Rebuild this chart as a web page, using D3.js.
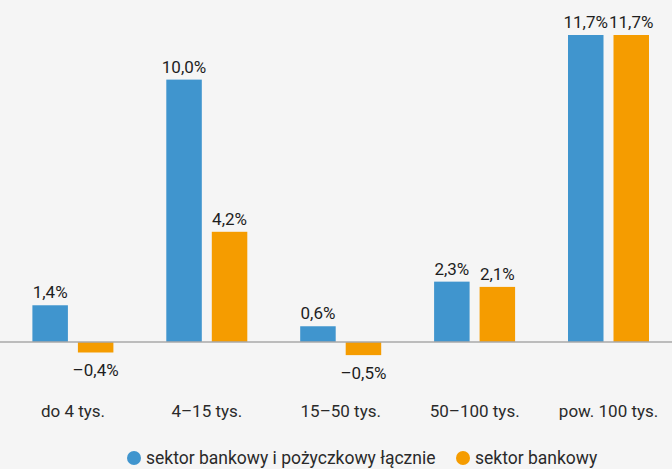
<!DOCTYPE html>
<html>
<head>
<meta charset="utf-8">
<script src="https://cdn.jsdelivr.net/npm/d3@7"></script>
<style>
  html, body { margin: 0; padding: 0; background: #f5f5f5; }
  svg { display: block; font-family: Roboto, "Noto Sans", sans-serif; }
</style>
</head>
<body>
<svg id="chart" width="672" height="469"></svg>
<script>
// Income groups
const categories = ["do 4 tys.", "4–15 tys.", "15–50 tys.", "50–100 tys.", "pow. 100 tys."];
// Series names
const seriesNames = ["sektor bankowy i pożyczkowy łącznie", "sektor bankowy"];
// Values in percent, per series
const combinedValues = [1.4, 10.0, 0.6, 2.3, 11.7];
const bankValues = [-0.4, 4.2, -0.5, 2.1, 11.7];
const seriesColors = ["#4095ce", "#f59c00"];

const svg = d3.select("#chart");
const W = 672;

const series = [combinedValues, bankValues];

const x = d3.scaleBand().domain(categories).range([6, 675.5]).padding(0);
const inner = d3.scaleBand().domain([0, 1]).range([26.4, 26.4 + 81]).paddingInner(0.2198);
const y = d3.scaleLinear().domain([0, 11.7]).range([342, 35]);

const fmt = v => (v < 0 ? "\u2013" : "") + Math.abs(v).toFixed(1).replace(".", ",") + "%";

// bars
series.forEach((vals, si) => {
  const g = svg.append("g");
  g.selectAll("rect").data(vals).join("rect")
    .attr("x", (d, i) => x(categories[i]) + inner(si))
    .attr("width", inner.bandwidth())
    .attr("y", d => Math.min(y(d), y(0)))
    .attr("height", d => Math.abs(y(d) - y(0)))
    .attr("fill", seriesColors[si]);

  g.selectAll("text").data(vals).join("text")
    .attr("x", (d, i) => x(categories[i]) + inner(si) + inner.bandwidth() / 2)
    .attr("y", d => d >= 0 ? y(d) - 7 : y(d) + 24)
    .attr("text-anchor", "middle")
    .attr("font-size", 17)
    .attr("font-weight", 400)
    .attr("fill", "#1e1e1e")
    .text(fmt);
});

// zero line
svg.append("line")
  .attr("x1", 0).attr("x2", W)
  .attr("y1", y(0)).attr("y2", y(0))
  .attr("stroke", "#a8a8a8").attr("stroke-width", 1.5);

// category axis
const axis = d3.axisBottom(x).tickSize(0).tickPadding(0);
const axG = svg.append("g").attr("transform", "translate(0,417)").call(axis);
axG.attr("font-size", null).attr("font-family", null);
axG.select(".domain").remove();
axG.selectAll("text")
  .attr("dy", 0)
  .style("font-size", "17px")
  .style("font-family", "Roboto, sans-serif")
  .attr("fill", "#2a2a2a");

// legend
const legend = [
  { label: seriesNames[0], color: seriesColors[0], cx: 134, tx: 146 },
  { label: seriesNames[1], color: seriesColors[1], cx: 463, tx: 475 }
];
const lg = svg.append("g");
legend.forEach(l => {
  lg.append("circle").attr("cx", l.cx).attr("cy", 458).attr("r", 7).attr("fill", l.color);
  lg.append("text").attr("x", l.tx).attr("y", 464)
    .style("font-size", "17.5px")
    .attr("fill", "#2a2a2a").text(l.label);
});
</script>
</body>
</html>
